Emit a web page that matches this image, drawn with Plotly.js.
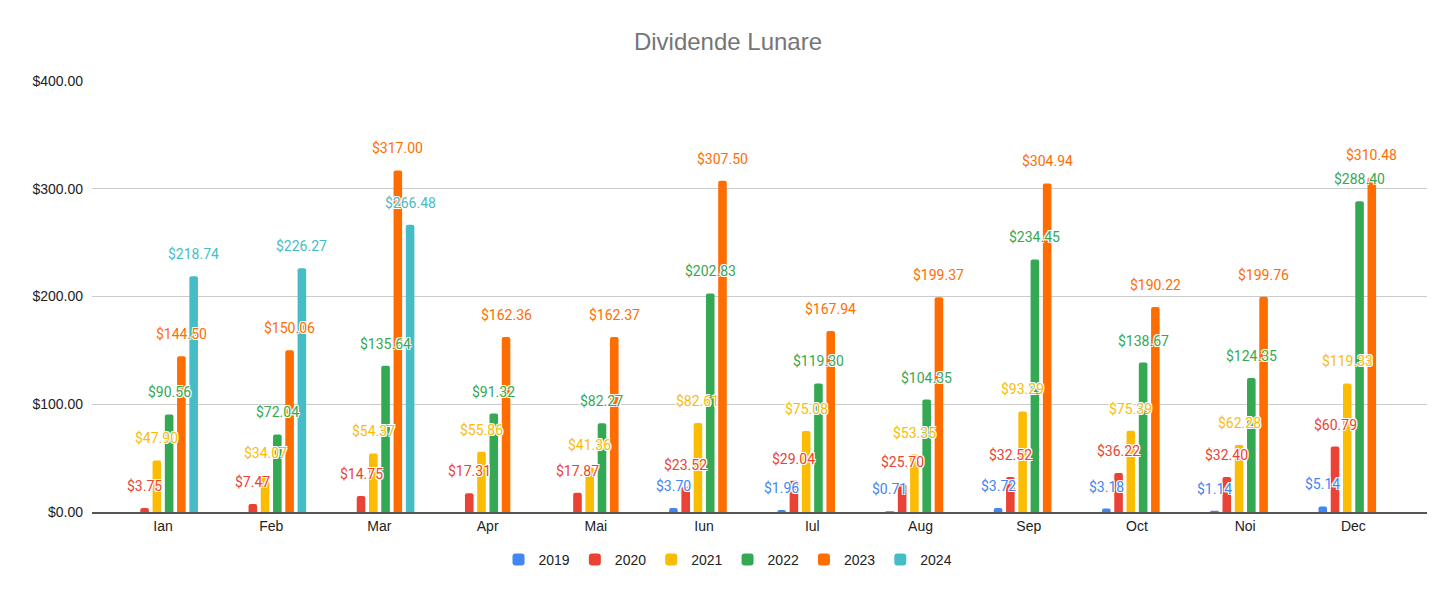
<!DOCTYPE html>
<html>
<head>
<meta charset="utf-8">
<script src="https://cdn.plot.ly/plotly-3.0.1.min.js"></script>
<style>
  body { margin: 0; background: #fff; }
  #chart { width: 1456px; height: 598px; }
</style>
</head>
<body>
<div id="chart"></div>
<script>
// date
var luni = ['Ian', 'Feb', 'Mar', 'Apr', 'Mai', 'Iun', 'Iul', 'Aug', 'Sep', 'Oct', 'Noi', 'Dec'];
var ani = ['2019', '2020', '2021', '2022', '2023', '2024'];

var v2019 = [null, null, null, null, null, 3.70, 1.96, 0.71, 3.72, 3.18, 1.14, 5.14];
var v2020 = [3.75, 7.47, 14.75, 17.31, 17.87, 23.52, 29.04, 25.70, 32.52, 36.22, 32.40, 60.79];
var v2021 = [47.90, 34.07, 54.37, 55.86, 41.36, 82.61, 75.08, 53.35, 93.29, 75.39, 62.28, 119.33];
var v2022 = [90.56, 72.04, 135.64, 91.32, 82.27, 202.83, 119.30, 104.35, 234.45, 138.67, 124.35, 288.40];
var v2023 = [144.50, 150.06, 317.00, 162.36, 162.37, 307.50, 167.94, 199.37, 304.94, 190.22, 199.76, 310.48];
var v2024 = [218.74, 226.27, 266.48, null, null, null, null, null, null, null, null, null];

var serii = [v2019, v2020, v2021, v2022, v2023, v2024];
var culori = ['#4285F4', '#EA4335', '#FBBC04', '#34A853', '#FF6D01', '#46BDC6'];

var data = [];
var etichete = [];

for (var k = 0; k < serii.length; k++) {
    data.push({
        x: luni,
        y: serii[k],
        type: 'bar',
        name: ani[k],
        marker: { color: culori[k] },
        hoverinfo: 'y+name'
    });

    // etichete deasupra barelor (ca in Google Sheets)
    for (var i = 0; i < luni.length; i++) {
        var v = serii[k][i];
        if (v === null) continue;
        etichete.push({
            x: luni[i],
            y: v,
            xref: 'x',
            yref: 'y',
            text: '$' + v.toFixed(2),
            showarrow: false,
            xshift: (k - 2.5) * 12.25,
            yshift: 22,
            yanchor: 'middle',
            font: {
                family: 'Roboto, Arial, sans-serif',
                size: 14,
                color: culori[k],
                shadow: '1px 1px 0 #fff, -1px -1px 0 #fff, 1px -1px 0 #fff, -1px 1px 0 #fff'
            }
        });
    }
}

var layout = {
    width: 1456,
    height: 598,
    paper_bgcolor: '#ffffff',
    plot_bgcolor: '#ffffff',
    font: { family: '"Liberation Sans", Arial, sans-serif', size: 14, color: '#222222' },
    margin: { l: 92, r: 29, t: 81, b: 86 },
    title: {
        text: 'Dividende Lunare',
        xref: 'container',
        x: 0.5,
        xanchor: 'center',
        yref: 'container',
        y: 1 - 42 / 598,
        yanchor: 'middle',
        font: { size: 24, color: '#757575' }
    },
    barmode: 'group',
    bargap: 0.32,
    bargroupgap: 0.3,
    barcornerradius: 2,
    xaxis: {
        type: 'category',
        range: [-0.656, 11.68],
        showgrid: false,
        showline: true,
        linecolor: '#555555',
        linewidth: 2,
        ticks: '',
        tickfont: { size: 14, color: '#222222' }
    },
    yaxis: {
        range: [0, 400],
        dtick: 100,
        tickprefix: '$',
        tickformat: ',.2f',
        gridcolor: '#cccccc',
        gridwidth: 1,
        zeroline: false,
        ticks: '',
        ticklabelstandoff: 8,
        tickfont: { size: 14, color: '#222222' }
    },
    showlegend: true,
    legend: {
        orientation: 'h',
        xref: 'container',
        x: 0.5,
        xanchor: 'center',
        yref: 'container',
        y: 1 - 560 / 598,
        yanchor: 'middle',
        font: { size: 14, color: '#222222' }
    },
    annotations: etichete
};

Plotly.newPlot('chart', data, layout, { displayModeBar: false, staticPlot: true });
</script>
</body>
</html>
